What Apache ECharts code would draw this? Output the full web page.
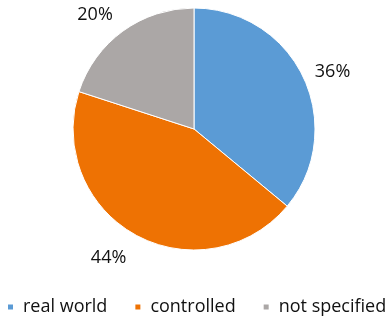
<!DOCTYPE html>
<html>
<head>
<meta charset="utf-8">
<script src="https://cdn.jsdelivr.net/npm/echarts@6/dist/echarts.min.js"></script>
<style>
html,body{margin:0;padding:0;background:#fff;}
#chart{width:390px;height:324px;}
</style>
</head>
<body>
<div id="chart"></div>
<script>
const categories = ['real world', 'controlled', 'not specified'];
const values = [36, 44, 20];
const colors = ['#5B9BD5', '#EE7203', '#ABA7A6'];

const labelOffsets = [[0, -3], [-1, 17], [-1, -11]];

const chart = echarts.init(document.getElementById('chart'));
chart.setOption({
  animation: false,
  color: colors,
  legend: {
    data: categories,
    left: 6,
    top: 298,
    width: 384,
    padding: 0,
    icon: 'rect',
    itemWidth: 7,
    itemHeight: 7,
    itemGap: 26,
    textStyle: {
      fontFamily: 'Open Sans',
      fontSize: 18,
      color: '#111',
      padding: [0, 0, 0, 4],
      lineHeight: 18
    }
  },
  series: [{
    type: 'pie',
    center: [194, 129],
    radius: 121,
    startAngle: 90,
    clockwise: true,
    avoidLabelOverlap: false,
    itemStyle: { borderColor: '#fff', borderWidth: 1 },
    label: {
      show: true,
      position: 'outside',
      formatter: '{c}%',
      fontFamily: 'Open Sans',
      fontSize: 18,
      color: '#111',
      distanceToLabelLine: 5
    },
    labelLine: { show: false, length: 7, length2: 0 },
    emphasis: { disabled: true },
    data: categories.map((name, i) => ({
      name: name,
      value: values[i],
      label: { offset: labelOffsets[i] }
    }))
  }]
});
</script>
</body>
</html>
